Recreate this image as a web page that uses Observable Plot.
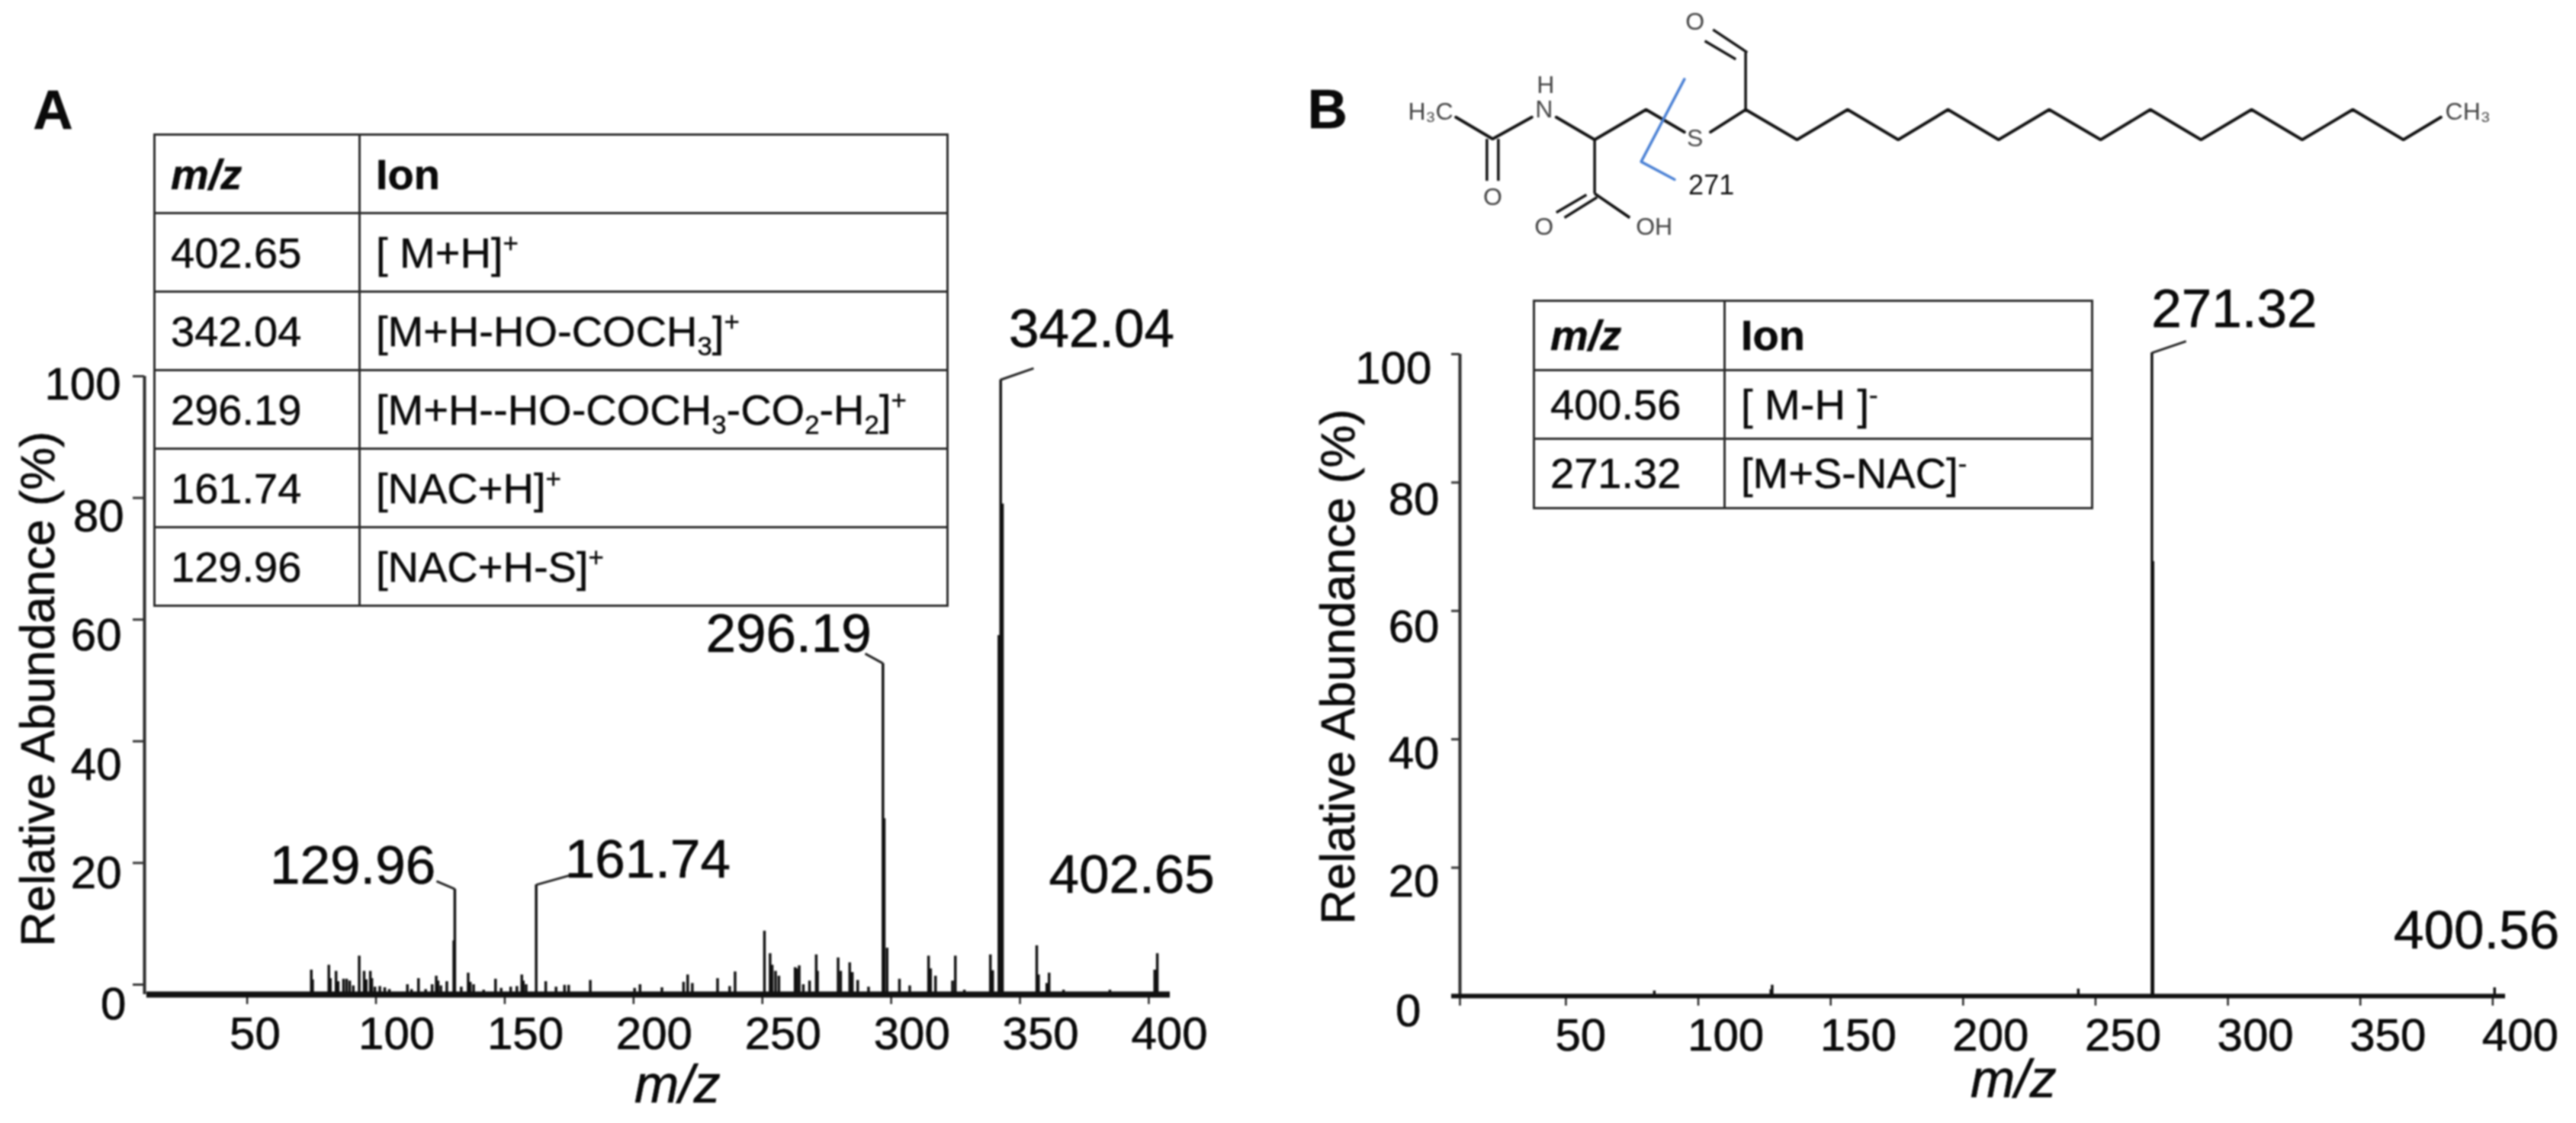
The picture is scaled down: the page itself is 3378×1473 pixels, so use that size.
<!DOCTYPE html>
<html>
<head>
<meta charset="utf-8">
<script src="https://cdn.jsdelivr.net/npm/d3@7"></script>
<script src="https://cdn.jsdelivr.net/npm/@observablehq/plot@0.6"></script>
<style>
  html, body { margin: 0; padding: 0; background: #fff; }
  #page { position: relative; width: 3378px; height: 1473px; overflow: hidden; filter: blur(0.9px); font-family: "Liberation Sans", Arial, sans-serif; color: #0a0a0a; }
  #page svg { position: absolute; left: 0; top: 0; }
  #page svg.spec text { stroke: #0a0a0a; stroke-width: 0.7px; }
  table.ions { position: absolute; border-collapse: collapse; table-layout: fixed; font-size: 56px; -webkit-text-stroke: 0.5px #0a0a0a; }
  table.ions td, table.ions th { border: 3.5px solid #2c2c2c; padding: 0 0 0 20px; text-align: left; font-weight: normal; box-sizing: border-box; white-space: nowrap; overflow: visible; }
  table.ions th { font-weight: bold; }
  table.ions th:first-child { font-style: italic; }
  table.ions sup, table.ions sub { font-size: 0.62em; line-height: 0; }
</style>
</head>
<body>
<div id="page"></div>
<script>
// ---------- Panel A values ----------
const xTicksA = [50, 100, 150, 200, 250, 300, 350, 400];
const yTicks = [0, 20, 40, 60, 80, 100];
const baseA = -1.63;
const mzA = [74.9,75.4,81.7,82.3,84.5,85.3,87.4,88.6,89.8,91.2,93.5,95.4,96.2,97.8,98.4,99.6,101.5,103.4,105.2,
  112.2,113.8,116.5,119.3,121.8,123.4,124.1,125.2,127.5,130.6,130.2,133.1,135.8,136.6,137.9,141.8,146.4,148.6,152.3,154.7,156.6,157.2,158.3,
  162.2,165.9,169.9,173.2,174.8,183.2,200.4,202.5,211,219.4,221,222.8,232.6,237.3,239.4,
  250.8,253,253.8,255.1,256.4,262.7,263.4,264.3,265.9,268.3,270.9,271.4,279.4,280.4,283.9,284.9,287,291.2,
  296.8,297.3,298.4,303.2,307.2,314.5,315.3,317.2,324.9,323.8,328.4,338.5,339.4,341.8,342.5,343.2,
  356.5,357.2,360.4,361.3,366.9,384.9,402.3,403.3];
const abundA = [2.4,0.8,3.2,1,2.2,0.5,0.9,0.9,0.6,-0.2,4.7,2.2,0.8,2.2,1,-0.4,-0.3,-0.5,-0.8,
  0,-0.8,1,-0.8,0,1.4,0.6,-0.2,0.5,15.7,7.2,-0.4,1.9,0.4,0,-0.9,0.9,-0.6,-0.4,-0.3,1.6,0.6,0,
  16.4,0.5,-0.4,-0.1,-0.1,0.7,-0.6,0,-0.5,0.4,1.6,0.2,1,-0.3,2.1,
  8.8,5.1,3.2,2.2,1.4,2.8,2.6,3.1,0,0.6,4.9,2.2,4.4,2.2,3.6,2,0.7,-0.4,
  52.8,27.3,6,0.9,-0.2,4.7,2.6,1.4,4.7,0.6,-0.9,4.9,2.3,57.4,99.4,79,
  6.4,1.6,0.2,1.9,-0.9,-0.9,2.4,5.1];
const calloutMzA = [342.4, 296.8, 130.6, 162.2];
const calloutTopA = [99.4, 52.8, 15.7, 16.4];
const calloutEndXA = [355.3, 289.9, 123.5, 175.6];
const calloutEndYA = [101.3, 54.4, 17, 18];
const peakTextA = ["342.04", "296.19", "129.96", "161.74", "402.65"];
const peakTextXA = [377.8, 260.2, 91, 205.5, 393.4];
const peakTextYA = [107.7, 57.6, 19.5, 20.5, 17.9];
const yLabelYA = [-3.3, 18.2, 36, 57.4, 76.9, 98.6];
const yLabelXA = [3, 1.3, 1.3, 1.3, 2.2, 1];
const tableMzA = ["402.65", "342.04", "296.19", "161.74", "129.96"];
const tableIonA = ["[ M+H]<sup>+</sup>", "[M+H-HO-COCH<sub>3</sub>]<sup>+</sup>", "[M+H--HO-COCH<sub>3</sub>-CO<sub>2</sub>-H<sub>2</sub>]<sup>+</sup>", "[NAC+H]<sup>+</sup>", "[NAC+H-S]<sup>+</sup>"];

// ---------- Panel B values ----------
const xTicksB = [10, 50, 100, 150, 200, 250, 300, 350, 400];
const xLabelsB = [50, 100, 150, 200, 250, 300, 350, 400];
const mzB = [83.4, 127.4, 127.9, 243.5, 271.3, 271.7, 400.7];
const abundB = [0.8, 1.0, 1.7, 1.1, 100.2, 67.7, 1.3];
const peakTextB = ["271.32", "400.56"];
const peakTextXB = [302.4, 393.9];
const peakTextYB = [106.9, 10.1];
const yLabelYB = [-2.4, 17.8, 37.7, 57.4, 77.3, 97.7];
const yLabelXB = [-4.7, 2.2, 2.2, 2.2, 2.2, -0.7];
const tableMzB = ["400.56", "271.32"];
const tableIonB = ["[ M-H ]<sup>-</sup>", "[M+S-NAC]<sup>-</sup>"];

// ---------- Structure drawing (in its own sketch units) ----------
const chainX = [195,240,288,null,318,365,428,475,null,507,550,613,675,737,798,860,922,985,1046,1108,1170,1232,1294,1356,1402];
const chainY = [460,545,460,null,460,548,430,518,null,518,430,548,430,548,430,548,430,548,430,548,430,548,430,548,460];
const bondX1 = [233,247,365,365,355,368,408,550,552,538];
const bondY1 = [545,545,548,760,765,775,855,430,205,232];
const bondX2 = [233,247,365,408,318,328,365,550,510,500];
const bondY2 = [710,710,760,855,835,855,760,205,115,160];
const cutX = [475, 422, 463];
const cutY = [310, 635, 705];
const atomText = ["H₃C","H","N","S","O","O","OH","O","CH₃"];
const atomX = [164,305,303,488,240,303,438,488,1435];
const atomY = [440,335,430,545,775,893,893,85,440];
const cutLabel = "271";

// ---------- Layout ----------
const W = 3378, H = 1473;
const font = "Liberation Sans, Arial, sans-serif";
const tickFont = 60, peakFont = 71, titleFont = 63, mzFont = 70;
const ink = "#0a0a0a";
const page = document.getElementById("page");

const zip = (a, b) => a.map((v, i) => ({a: v, b: b[i]}));
const plotStyle = {fontFamily: font, background: "transparent", overflow: "visible", color: ink};

function spectrum(o) {
  const peaks = zip(o.mz, o.abund);
  const svg = Plot.plot({
    width: W, height: H,
    marginLeft: o.left, marginRight: W - o.right, marginTop: o.top, marginBottom: H - o.bottom,
    style: plotStyle,
    x: {domain: o.xDomain, axis: null},
    y: {domain: o.yDomain, axis: null},
    marks: [
      Plot.ruleX([o.xDomain[0]], {y1: o.yDomain[0], y2: 100, stroke: "#2a2a2a", strokeWidth: 4}),
      Plot.axisY({anchor: "left", ticks: yTicks, tickSize: o.yTickSize, fill: "none", label: null, strokeWidth: 3, stroke: "#333"}),
      Plot.text(yTicks, {x: o.yLabelX, y: o.yLabelY, text: d => `${d}`, textAnchor: "end", lineAnchor: "middle", fontSize: tickFont}),
      Plot.axisX({anchor: "bottom", ticks: o.xTicks, tickSize: 13, fill: "none", label: null, strokeWidth: 2.5, stroke: "#222"}),
      Plot.axisX({anchor: "bottom", ticks: o.xLabels, tickSize: 0, tickPadding: o.xPad, dx: o.xDx, textAnchor: "start", fontSize: tickFont, label: null}),
      Plot.ruleX(peaks, {x: "a", y1: o.yDomain[0], y2: "b", stroke: "#111", strokeWidth: o.peakWidth}),
      Plot.ruleY([o.yDomain[0]], {x1: o.baseX1, x2: o.xDomain[1], stroke: "#111", strokeWidth: o.baseWidth}),
      Plot.link(o.calloutMz, {x1: d => d, y1: (d, i) => o.calloutTop[i], x2: (d, i) => o.calloutEndX[i], y2: (d, i) => o.calloutEndY[i], stroke: "#222", strokeWidth: 3}),
      Plot.text(o.peakText, {x: (d, i) => o.peakTextX[i], y: (d, i) => o.peakTextY[i], text: d => d, fontSize: peakFont, lineAnchor: "middle"}),
      Plot.text(["m/z"], {x: o.mzX, y: o.mzY, text: d => d, fontSize: mzFont, fontStyle: "italic", lineAnchor: "middle"}),
      Plot.text(["Relative Abundance (%)"], {x: o.titleX, y: o.titleY, text: d => d, rotate: -90, fontSize: titleFont, lineAnchor: "middle"}),
      Plot.text([o.letter], {x: o.letterX, y: o.letterY, text: d => d, fontSize: 72, fontWeight: "bold", lineAnchor: "middle"})
    ]
  });
  svg.classList.add("spec");
  return svg;
}

page.appendChild(spectrum({
  left: 189, right: 1534, top: 493, bottom: 1304,
  xDomain: [10.15, 408.3], yDomain: [baseA, 100],
  mz: mzA, abund: abundA, xTicks: xTicksA, xLabels: xTicksA, xDx: -23, xPad: 29,
  yTickSize: 15, yLabelX: yLabelXA, yLabelY: yLabelYA,
  baseX1: 11, baseWidth: 8, peakWidth: 3.5,
  calloutMz: calloutMzA, calloutTop: calloutTopA, calloutEndX: calloutEndXA, calloutEndY: calloutEndYA,
  peakText: peakTextA, peakTextX: peakTextXA, peakTextY: peakTextYA,
  mzX: 217, mzY: -16.5, titleX: -31, titleY: 48.6,
  letter: "A", letterX: -25.4, letterY: 143.6
}));

page.appendChild(spectrum({
  left: 1914, right: 3285, top: 464, bottom: 1306,
  xDomain: [10, 404.8], yDomain: [0, 100],
  mz: mzB, abund: abundB, xTicks: xTicksB, xLabels: xLabelsB, xDx: -14, xPad: 29,
  yTickSize: 11, yLabelX: yLabelXB, yLabelY: yLabelYB,
  baseX1: 6.83, baseWidth: 6, peakWidth: 3.5,
  calloutMz: [271.3], calloutTop: [100.2], calloutEndX: [284.2], calloutEndY: [102],
  peakText: peakTextB, peakTextX: peakTextXB, peakTextY: peakTextYB,
  mzX: 219, mzY: -13.1, titleX: -35.8, titleY: 51.3,
  letter: "B", letterX: -40, letterY: 138
}));

// Structure drawing
const chain = zip(chainX, chainY);
page.appendChild(Plot.plot({
  width: W, height: H, margin: 0, style: plotStyle,
  x: {domain: [0, 1568], range: [1700, 3378], axis: null},
  y: {domain: [0, 1500], range: [0, 500], axis: null},
  marks: [
    Plot.line(chain, {x: "a", y: "b", stroke: "#111", strokeWidth: 4, curve: "linear", strokeLinejoin: "miter"}),
    Plot.link(bondX1, {x1: d => d, y1: (d, i) => bondY1[i], x2: (d, i) => bondX2[i], y2: (d, i) => bondY2[i], stroke: "#111", strokeWidth: 3.5}),
    Plot.line(zip(cutX, cutY), {x: "a", y: "b", stroke: "#4a80d4", strokeWidth: 3.5, curve: "linear"}),
    Plot.text(atomText, {x: (d, i) => atomX[i], y: (d, i) => atomY[i], text: d => d, fontSize: 32, fill: "#444", lineAnchor: "middle"}),
    Plot.text([cutLabel], {x: 508, y: 728, text: d => d, fontSize: 36, fill: "#111", lineAnchor: "middle"})
  ]
}));

// Ion tables
function ionTable(left, top, widths, rowH, mz, ions) {
  const t = document.createElement("table");
  t.className = "ions";
  t.style.left = left + "px";
  t.style.top = top + "px";
  t.style.width = (widths[0] + widths[1]) + "px";
  const cols = widths.map(w => `<col style="width:${w}px">`).join("");
  const rows = mz.map((m, i) => `<tr style="height:${rowH}px"><td>${m}</td><td>${ions[i]}</td></tr>`).join("");
  t.innerHTML = `<colgroup>${cols}</colgroup><tr style="height:${rowH}px"><th>m/z</th><th>Ion</th></tr>${rows}`;
  page.appendChild(t);
}
ionTable(201, 175, [269, 771], 103, tableMzA, tableIonA);
ionTable(2010, 393, [250, 482], 90.5, tableMzB, tableIonB);
</script>
</body>
</html>
